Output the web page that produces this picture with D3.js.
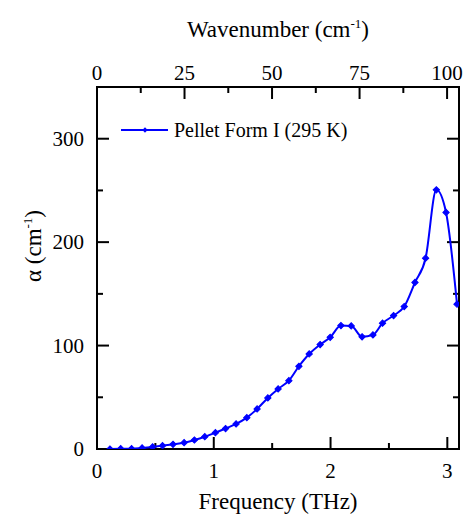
<!DOCTYPE html>
<html>
<head>
<meta charset="utf-8">
<script src="https://cdn.jsdelivr.net/npm/d3@7"></script>
<style>
	body	{ margin:0; background:#fff; }
	svg	{ display:block; }
</style>
</head>
<body>
<div id="chart"></div>
<script>
// frequency (THz) and absorption coefficient (cm-1)
var	freq	= [0.111,0.203,0.296,0.386,0.476,0.561,0.651,0.746,0.834,0.923,
		   1.014,1.101,1.191,1.283,1.371,1.463,1.551,1.643,1.729,1.817,
		   1.911,1.997,2.089,2.177,2.270,2.363,2.445,2.540,2.631,2.723,
		   2.814,2.906,2.989,3.083],
	alpha	= [0,0.3,0.3,1,2,3.2,4.5,6.1,8.7,11.9,
		   15.8,19.8,24.2,30.3,38.7,49.4,58.1,66.1,80.0,91.9,
		   101.0,108.0,119.3,119.0,108.5,110.3,121.6,129.0,137.7,161.0,
		   184.5,250.6,228.7,140.0],
	xTicks	= [0,1,2,3],
	xMinor	= [0.5,1.5,2.5],
	yTicks	= [0,100,200,300],
	yMinor	= [50,150,250],
	wnTicks	= [0,25,50,75,100],
	wnMinor	= [12.5,37.5,62.5,87.5],
	seriesName	= "Pellet Form I (295 K)";

var	W	= 464, H = 514,
	margin	= {top: 87, right: 5, bottom: 65, left: 97},
	w	= W-margin.left-margin.right,
	h	= H-margin.top-margin.bottom,
	THZ2WN	= 33.356,
	blue	= "#0000ff",
	FONT	= "'Liberation Serif', 'Times New Roman', 'DejaVu Serif', serif";

var	x	= d3.scaleLinear().domain([0, 3.1]).range([0, w]),
	y	= d3.scaleLinear().domain([0, 350]).range([h, 0]),
	wn	= d3.scaleLinear().domain([0, 3.1*THZ2WN]).range([0, w]);

var	svg	= d3.select("#chart").append("svg").attr("width", W).attr("height", H)
			.attr("font-family", FONT),
	g	= svg.append("g").attr("transform", "translate("+margin.left+","+margin.top+")");

function ticks(sel, scale, vals, len, orient) {
	sel.selectAll("line.t"+len+orient).data(vals).enter().append("line")
		.attr("class", "t"+len+orient)
		.attr("stroke", "#000").style("stroke-width", "2px")
		.each(function(d) {
			var l = d3.select(this), p = scale(d);
			if (orient == "bottom") l.attr("x1", p).attr("x2", p).attr("y1", h).attr("y2", h-len);
			if (orient == "top") l.attr("x1", p).attr("x2", p).attr("y1", 0).attr("y2", len);
			if (orient == "left") l.attr("x1", 0).attr("x2", len).attr("y1", p).attr("y2", p);
			if (orient == "right") l.attr("x1", w).attr("x2", w-len).attr("y1", p).attr("y2", p);
		});
}

// frame
g.append("rect").attr("width", w).attr("height", h)
	.attr("fill", "none").attr("stroke", "#000").style("stroke-width", "2px");

ticks(g, x, xTicks, 12, "bottom");
ticks(g, x, xMinor, 6, "bottom");
ticks(g, wn, wnTicks, 12, "top");
ticks(g, wn, wnMinor, 6, "top");
ticks(g, y, yTicks, 12, "left");
ticks(g, y, yMinor, 6, "left");
ticks(g, y, yTicks, 12, "right");
ticks(g, y, yMinor, 6, "right");

// tick labels
g.selectAll(".xl").data(xTicks).enter().append("text").attr("class", "xl")
	.attr("x", function(d) { return x(d) }).attr("y", h+29)
	.attr("font-family", FONT).attr("text-anchor", "middle").style("font-size", "21px")
	.text(function(d) { return d });
g.selectAll(".wl").data(wnTicks).enter().append("text").attr("class", "wl")
	.attr("x", function(d) { return wn(d) }).attr("y", -7)
	.attr("font-family", FONT).attr("text-anchor", "middle").style("font-size", "21px")
	.text(function(d) { return d });
g.selectAll(".yl").data(yTicks).enter().append("text").attr("class", "yl")
	.attr("x", -13).attr("y", function(d) { return y(d)+7 })
	.attr("font-family", FONT).attr("text-anchor", "end").style("font-size", "21px")
	.text(function(d) { return d });

// axis titles
var t = svg.append("text").attr("x", margin.left+w/2).attr("y", 37)
	.attr("font-family", FONT).attr("text-anchor", "middle").style("font-size", "23px");
t.append("tspan").text("Wavenumber (cm");
t.append("tspan").attr("dy", -9).style("font-size", "13px").text("-1");
t.append("tspan").attr("dy", 9).text(")");

svg.append("text").attr("x", margin.left+w/2).attr("y", 509)
	.attr("font-family", FONT).attr("text-anchor", "middle").style("font-size", "23px")
	.text("Frequency (THz)");

var ty = svg.append("text").attr("transform", "translate(41,246) rotate(-90)")
	.attr("font-family", FONT).attr("text-anchor", "middle").style("font-size", "23px");
ty.append("tspan").text("\u03b1 (cm");
ty.append("tspan").attr("dy", -9).style("font-size", "13px").text("-1");
ty.append("tspan").attr("dy", 9).text(")");

// data
var	pts	= freq.map(function(f, i) { return {f: f, a: alpha[i]} }),
	line	= d3.line().curve(d3.curveMonotoneX)
			.x(function(d) { return x(d.f) })
			.y(function(d) { return y(d.a) }),
	marker	= d3.symbol().type(d3.symbolSquare).size(20);

svg.append("defs").append("clipPath").attr("id", "clip")
	.append("rect").attr("width", w).attr("height", h);

var	plot	= g.append("g").attr("clip-path", "url(#clip)");
plot.append("path").datum(pts).attr("d", line)
	.attr("fill", "none").attr("stroke", blue).style("stroke-width", "2px");
plot.selectAll(".pt").data(pts).enter().append("path").attr("class", "pt")
	.attr("d", marker)
	.attr("transform", function(d) { return "translate("+x(d.f)+","+y(d.a)+") rotate(45)" })
	.attr("fill", blue).attr("stroke", blue).style("stroke-width", "1px");

// legend
var	lg	= g.append("g").attr("transform", "translate(24,43)");
lg.append("line").attr("x1", 0).attr("x2", 47).attr("y1", 0).attr("y2", 0)
	.attr("stroke", blue).style("stroke-width", "2px");
lg.append("path").attr("d", d3.symbol().type(d3.symbolSquare).size(14))
	.attr("transform", "translate(24,0) rotate(45)").attr("fill", blue);
lg.append("text").attr("x", 53).attr("y", 7)
	.attr("font-family", FONT).style("font-size", "20px").text(seriesName);
</script>
</body>
</html>
